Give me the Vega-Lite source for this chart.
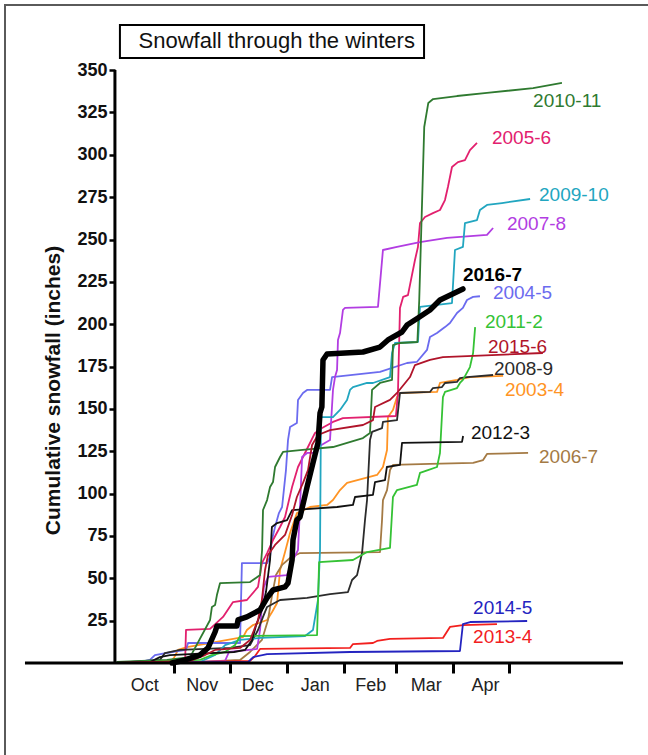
{
  "$schema": "https://vega.github.io/schema/vega-lite/v6.json",
  "width": 650,
  "height": 760,
  "autosize": "none",
  "padding": {"left": 5, "top": 5, "right": 0, "bottom": 0},
  "background": "white",
  "config": {"view": {"stroke": "#5a5a5a", "strokeWidth": 2}, "font": "Liberation Sans"},
  "datasets": {
    "snow": [
      {"season":"2003-4","day":0,"inches":0},{"season":"2003-4","day":28.9,"inches":0.6},{"season":"2003-4","day":31,"inches":3},{"season":"2003-4","day":33.2,"inches":7.7},{"season":"2003-4","day":38,"inches":9.4},{"season":"2003-4","day":68.3,"inches":15.3},{"season":"2003-4","day":70.4,"inches":19.5},{"season":"2003-4","day":73.7,"inches":22.4},{"season":"2003-4","day":81.3,"inches":25.4},{"season":"2003-4","day":84,"inches":30.1},{"season":"2003-4","day":86.7,"inches":35.4},{"season":"2003-4","day":88.3,"inches":54.9},{"season":"2003-4","day":91,"inches":65.5},{"season":"2003-4","day":93.7,"inches":76.7},{"season":"2003-4","day":97.4,"inches":88.5},{"season":"2003-4","day":104.5,"inches":92.1},{"season":"2003-4","day":113.7,"inches":93.3},{"season":"2003-4","day":116.9,"inches":96.2},{"season":"2003-4","day":120.7,"inches":102.1},{"season":"2003-4","day":124.5,"inches":106.3},{"season":"2003-4","day":140.7,"inches":111},{"season":"2003-4","day":143.9,"inches":115.7},{"season":"2003-4","day":146.1,"inches":125.7},{"season":"2003-4","day":146.6,"inches":145.2},{"season":"2003-4","day":149.3,"inches":149.4},{"season":"2003-4","day":151.5,"inches":157},{"season":"2003-4","day":153.1,"inches":159.4},{"season":"2003-4","day":173.1,"inches":160},{"season":"2003-4","day":174.7,"inches":165.3},{"season":"2003-4","day":183.9,"inches":167.1},{"season":"2003-4","day":190.9,"inches":168.8},{"season":"2003-4","day":208.8,"inches":169.5},
      {"season":"2004-5","day":0,"inches":0},{"season":"2004-5","day":12.6,"inches":0.6},{"season":"2004-5","day":18,"inches":1.8},{"season":"2004-5","day":20.7,"inches":4.7},{"season":"2004-5","day":29.9,"inches":6.5},{"season":"2004-5","day":37.5,"inches":7.7},{"season":"2004-5","day":38.6,"inches":11.8},{"season":"2004-5","day":66.7,"inches":11.8},{"season":"2004-5","day":67.7,"inches":59},{"season":"2004-5","day":81.3,"inches":59},{"season":"2004-5","day":82.9,"inches":62.6},{"season":"2004-5","day":83.9,"inches":72.6},{"season":"2004-5","day":85.6,"inches":80.3},{"season":"2004-5","day":87.7,"inches":88.5},{"season":"2004-5","day":89.4,"inches":92.1},{"season":"2004-5","day":91.5,"inches":113.9},{"season":"2004-5","day":92.6,"inches":131.6},{"season":"2004-5","day":93.7,"inches":139.3},{"season":"2004-5","day":97.4,"inches":141.7},{"season":"2004-5","day":98,"inches":155.3},{"season":"2004-5","day":100.7,"inches":159.4},{"season":"2004-5","day":102.9,"inches":161.2},{"season":"2004-5","day":115.3,"inches":161.2},{"season":"2004-5","day":116.4,"inches":168.8},{"season":"2004-5","day":142.3,"inches":171.8},{"season":"2004-5","day":156.9,"inches":177.1},{"season":"2004-5","day":162.2,"inches":177.7},{"season":"2004-5","day":167.7,"inches":184.8},{"season":"2004-5","day":169.3,"inches":192.4},{"season":"2004-5","day":173.1,"inches":194.8},{"season":"2004-5","day":177.4,"inches":198.3},{"season":"2004-5","day":180.1,"inches":200.7},{"season":"2004-5","day":183.9,"inches":206.6},{"season":"2004-5","day":187.1,"inches":209.6},{"season":"2004-5","day":189.3,"inches":214.3},{"season":"2004-5","day":192.6,"inches":216.1},{"season":"2004-5","day":196.3,"inches":216.5},
      {"season":"2005-6","day":0,"inches":0},{"season":"2005-6","day":37,"inches":0.6},{"season":"2005-6","day":37.5,"inches":19.5},{"season":"2005-6","day":50.5,"inches":20.1},{"season":"2005-6","day":57.5,"inches":27.2},{"season":"2005-6","day":62.9,"inches":36},{"season":"2005-6","day":70.4,"inches":37.2},{"season":"2005-6","day":76.4,"inches":44.9},{"season":"2005-6","day":78.5,"inches":59},{"season":"2005-6","day":81.3,"inches":64.9},{"season":"2005-6","day":84.5,"inches":72.6},{"season":"2005-6","day":88.3,"inches":80.3},{"season":"2005-6","day":91,"inches":86.2},{"season":"2005-6","day":94.8,"inches":103.9},{"season":"2005-6","day":98,"inches":115.7},{"season":"2005-6","day":100.7,"inches":121.6},{"season":"2005-6","day":103.4,"inches":127.5},{"season":"2005-6","day":107.2,"inches":135.8},{"season":"2005-6","day":111,"inches":138.7},{"season":"2005-6","day":116.9,"inches":142.3},{"season":"2005-6","day":122.3,"inches":144.6},{"season":"2005-6","day":150.9,"inches":145.8},{"season":"2005-6","day":152,"inches":159.4},{"season":"2005-6","day":153.1,"inches":209.6},{"season":"2005-6","day":154.8,"inches":216.1},{"season":"2005-6","day":157.4,"inches":217.2},{"season":"2005-6","day":161.2,"inches":237.9},{"season":"2005-6","day":162.8,"inches":245.6},{"season":"2005-6","day":163.9,"inches":259.7},{"season":"2005-6","day":166.6,"inches":263.3},{"season":"2005-6","day":170.9,"inches":265.6},{"season":"2005-6","day":174.7,"inches":267.4},{"season":"2005-6","day":177.4,"inches":273.3},{"season":"2005-6","day":179,"inches":281},{"season":"2005-6","day":181.2,"inches":292.8},{"season":"2005-6","day":184.4,"inches":295.7},{"season":"2005-6","day":188.2,"inches":296.9},{"season":"2005-6","day":190.9,"inches":302.8},{"season":"2005-6","day":194.7,"inches":307},
      {"season":"2006-7","day":0,"inches":0},{"season":"2006-7","day":45.1,"inches":0.6},{"season":"2006-7","day":66.7,"inches":1.8},{"season":"2006-7","day":72.1,"inches":6.5},{"season":"2006-7","day":78.5,"inches":13.6},{"season":"2006-7","day":81.8,"inches":25.4},{"season":"2006-7","day":84,"inches":40.1},{"season":"2006-7","day":86.1,"inches":51.9},{"season":"2006-7","day":89.4,"inches":57.9},{"season":"2006-7","day":93.7,"inches":62},{"season":"2006-7","day":99.1,"inches":64.9},{"season":"2006-7","day":142.3,"inches":65.5},{"season":"2006-7","day":143.4,"inches":84.4},{"season":"2006-7","day":143.9,"inches":96.2},{"season":"2006-7","day":146.1,"inches":102.1},{"season":"2006-7","day":147.7,"inches":113.9},{"season":"2006-7","day":149.3,"inches":116.9},{"season":"2006-7","day":169.3,"inches":117.5},{"season":"2006-7","day":192.6,"inches":118.1},{"season":"2006-7","day":198,"inches":119.8},{"season":"2006-7","day":200.1,"inches":123.4},{"season":"2006-7","day":222.3,"inches":124},
      {"season":"2007-8","day":0,"inches":0},{"season":"2007-8","day":45,"inches":0.6},{"season":"2007-8","day":58.6,"inches":1.2},{"season":"2007-8","day":60.7,"inches":6.5},{"season":"2007-8","day":75.9,"inches":8.3},{"season":"2007-8","day":77.5,"inches":19.5},{"season":"2007-8","day":78.6,"inches":35.4},{"season":"2007-8","day":79.6,"inches":44.9},{"season":"2007-8","day":81.8,"inches":50.8},{"season":"2007-8","day":92,"inches":51.9},{"season":"2007-8","day":95.3,"inches":60.8},{"season":"2007-8","day":98,"inches":66.7},{"season":"2007-8","day":99.1,"inches":92.1},{"season":"2007-8","day":100.2,"inches":121.6},{"season":"2007-8","day":102.9,"inches":124},{"season":"2007-8","day":108.3,"inches":124},{"season":"2007-8","day":108.8,"inches":127.5},{"season":"2007-8","day":115.3,"inches":131.6},{"season":"2007-8","day":116.9,"inches":161.2},{"season":"2007-8","day":118,"inches":168.8},{"season":"2007-8","day":119.1,"inches":173},{"season":"2007-8","day":119.6,"inches":190.7},{"season":"2007-8","day":120.7,"inches":194.8},{"season":"2007-8","day":122.3,"inches":208.4},{"season":"2007-8","day":123.4,"inches":209.6},{"season":"2007-8","day":141.2,"inches":210.2},{"season":"2007-8","day":143.9,"inches":243.8},{"season":"2007-8","day":151.5,"inches":245.6},{"season":"2007-8","day":163.9,"inches":248.5},{"season":"2007-8","day":178.5,"inches":250.9},{"season":"2007-8","day":200.1,"inches":252.7},{"season":"2007-8","day":203.4,"inches":256.8},
      {"season":"2008-9","day":0,"inches":0},{"season":"2008-9","day":23.4,"inches":1.8},{"season":"2008-9","day":26.1,"inches":5.9},{"season":"2008-9","day":34.2,"inches":7.7},{"season":"2008-9","day":61.3,"inches":8.9},{"season":"2008-9","day":72.1,"inches":10.6},{"season":"2008-9","day":76.4,"inches":19.5},{"season":"2008-9","day":79.1,"inches":27.2},{"season":"2008-9","day":81.3,"inches":33.1},{"season":"2008-9","day":88.3,"inches":37.2},{"season":"2008-9","day":102.9,"inches":38.4},{"season":"2008-9","day":115.3,"inches":40.7},{"season":"2008-9","day":125,"inches":41.9},{"season":"2008-9","day":127.2,"inches":49},{"season":"2008-9","day":129.9,"inches":51.9},{"season":"2008-9","day":132.6,"inches":64.9},{"season":"2008-9","day":134.2,"inches":84.4},{"season":"2008-9","day":135.3,"inches":96.2},{"season":"2008-9","day":136.9,"inches":131.6},{"season":"2008-9","day":138,"inches":136.4},{"season":"2008-9","day":143.4,"inches":138.7},{"season":"2008-9","day":143.9,"inches":142.3},{"season":"2008-9","day":151.5,"inches":143.4},{"season":"2008-9","day":153.1,"inches":159.4},{"season":"2008-9","day":169.3,"inches":160},{"season":"2008-9","day":170.9,"inches":162.3},{"season":"2008-9","day":175.8,"inches":162.9},{"season":"2008-9","day":177.4,"inches":165.3},{"season":"2008-9","day":183.9,"inches":165.9},{"season":"2008-9","day":185.5,"inches":168.2},{"season":"2008-9","day":189.3,"inches":168.8},{"season":"2008-9","day":203.4,"inches":170},
      {"season":"2009-10","day":0,"inches":0},{"season":"2009-10","day":45,"inches":0.6},{"season":"2009-10","day":53.2,"inches":4.7},{"season":"2009-10","day":58.6,"inches":10.6},{"season":"2009-10","day":66.7,"inches":13.6},{"season":"2009-10","day":77.5,"inches":14.8},{"season":"2009-10","day":101.8,"inches":15.9},{"season":"2009-10","day":106.1,"inches":19.5},{"season":"2009-10","day":108.8,"inches":37.2},{"season":"2009-10","day":109.9,"inches":66.7},{"season":"2009-10","day":110.4,"inches":145.2},{"season":"2009-10","day":116.9,"inches":145.2},{"season":"2009-10","day":120.7,"inches":149.4},{"season":"2009-10","day":124.5,"inches":155.3},{"season":"2009-10","day":126.1,"inches":161.2},{"season":"2009-10","day":127.7,"inches":162.9},{"season":"2009-10","day":135.3,"inches":165.3},{"season":"2009-10","day":138.5,"inches":165.3},{"season":"2009-10","day":147.7,"inches":168.8},{"season":"2009-10","day":148.8,"inches":183},{"season":"2009-10","day":150.4,"inches":188.9},{"season":"2009-10","day":162.8,"inches":189.5},{"season":"2009-10","day":163.9,"inches":210.2},{"season":"2009-10","day":181.2,"inches":212.5},{"season":"2009-10","day":182.8,"inches":243.8},{"season":"2009-10","day":187.1,"inches":245.6},{"season":"2009-10","day":188.2,"inches":259.7},{"season":"2009-10","day":194.7,"inches":261.5},{"season":"2009-10","day":196.3,"inches":267.4},{"season":"2009-10","day":200.1,"inches":270.4},{"season":"2009-10","day":208.2,"inches":271.5},{"season":"2009-10","day":223.4,"inches":273.9},
      {"season":"2010-11","day":0,"inches":0.6},{"season":"2010-11","day":27.2,"inches":1.8},{"season":"2010-11","day":39.7,"inches":3.5},{"season":"2010-11","day":50.5,"inches":25.4},{"season":"2010-11","day":51.5,"inches":33.1},{"season":"2010-11","day":53.2,"inches":34.2},{"season":"2010-11","day":54.2,"inches":40.1},{"season":"2010-11","day":55.9,"inches":47.2},{"season":"2010-11","day":72.1,"inches":47.8},{"season":"2010-11","day":77.5,"inches":51.9},{"season":"2010-11","day":78.6,"inches":66.7},{"season":"2010-11","day":79.1,"inches":90.3},{"season":"2010-11","day":81.3,"inches":96.2},{"season":"2010-11","day":82.9,"inches":103.9},{"season":"2010-11","day":84.5,"inches":106.8},{"season":"2010-11","day":85.6,"inches":115.7},{"season":"2010-11","day":88.3,"inches":121.6},{"season":"2010-11","day":89.9,"inches":124.6},{"season":"2010-11","day":99.1,"inches":125.7},{"season":"2010-11","day":116.9,"inches":127.5},{"season":"2010-11","day":133.1,"inches":132.8},{"season":"2010-11","day":136.9,"inches":135.8},{"season":"2010-11","day":138,"inches":161.2},{"season":"2010-11","day":142.3,"inches":165.3},{"season":"2010-11","day":148.8,"inches":167.1},{"season":"2010-11","day":149.3,"inches":187.7},{"season":"2010-11","day":153.1,"inches":188.9},{"season":"2010-11","day":162.5,"inches":189.5},{"season":"2010-11","day":163.5,"inches":214.3},{"season":"2010-11","day":164.8,"inches":263.3},{"season":"2010-11","day":166.2,"inches":316.4},{"season":"2010-11","day":168.4,"inches":330.6},{"season":"2010-11","day":171,"inches":332.9},{"season":"2010-11","day":183.9,"inches":334.7},{"season":"2010-11","day":200.1,"inches":336.5},{"season":"2010-11","day":225,"inches":339.4},{"season":"2010-11","day":240.6,"inches":342.4},
      {"season":"2011-2","day":0,"inches":0},{"season":"2011-2","day":26.1,"inches":1.2},{"season":"2011-2","day":45.1,"inches":1.8},{"season":"2011-2","day":51.5,"inches":4.7},{"season":"2011-2","day":58.6,"inches":6.5},{"season":"2011-2","day":64,"inches":10.6},{"season":"2011-2","day":66.7,"inches":15.9},{"season":"2011-2","day":108.3,"inches":16.5},{"season":"2011-2","day":109.4,"inches":59.6},{"season":"2011-2","day":127.7,"inches":60.8},{"season":"2011-2","day":135.3,"inches":65.5},{"season":"2011-2","day":147.7,"inches":67.9},{"season":"2011-2","day":149.3,"inches":98},{"season":"2011-2","day":151.5,"inches":102.1},{"season":"2011-2","day":162.2,"inches":105.1},{"season":"2011-2","day":163.9,"inches":112.2},{"season":"2011-2","day":168.2,"inches":113.9},{"season":"2011-2","day":173.1,"inches":115.7},{"season":"2011-2","day":174.7,"inches":124},{"season":"2011-2","day":176.3,"inches":157},{"season":"2011-2","day":177.4,"inches":160},{"season":"2011-2","day":183.9,"inches":162.3},{"season":"2011-2","day":185.5,"inches":165.3},{"season":"2011-2","day":187.1,"inches":167.1},{"season":"2011-2","day":190.9,"inches":174.7},{"season":"2011-2","day":192.6,"inches":183},{"season":"2011-2","day":193.7,"inches":198.3},
      {"season":"2012-3","day":0,"inches":0},{"season":"2012-3","day":18,"inches":0.6},{"season":"2012-3","day":23.4,"inches":3.5},{"season":"2012-3","day":28.8,"inches":4.7},{"season":"2012-3","day":63.4,"inches":6.5},{"season":"2012-3","day":69.4,"inches":7.7},{"season":"2012-3","day":73.2,"inches":13.6},{"season":"2012-3","day":75.4,"inches":22.4},{"season":"2012-3","day":78.5,"inches":31.3},{"season":"2012-3","day":80.7,"inches":41.9},{"season":"2012-3","day":82.9,"inches":60.8},{"season":"2012-3","day":83.9,"inches":80.3},{"season":"2012-3","day":86.7,"inches":82.6},{"season":"2012-3","day":92.1,"inches":84.4},{"season":"2012-3","day":94.8,"inches":90.3},{"season":"2012-3","day":119.1,"inches":92.1},{"season":"2012-3","day":127.7,"inches":93.3},{"season":"2012-3","day":128.8,"inches":98},{"season":"2012-3","day":138.5,"inches":99.2},{"season":"2012-3","day":139.6,"inches":106.8},{"season":"2012-3","day":145,"inches":108},{"season":"2012-3","day":146,"inches":115.7},{"season":"2012-3","day":153.1,"inches":116.9},{"season":"2012-3","day":154.2,"inches":129.9},{"season":"2012-3","day":186.6,"inches":130.5},{"season":"2012-3","day":187.2,"inches":134},
      {"season":"2013-4","day":0,"inches":0},{"season":"2013-4","day":45.1,"inches":0.6},{"season":"2013-4","day":72.1,"inches":1.2},{"season":"2013-4","day":74.8,"inches":4.1},{"season":"2013-4","day":77.5,"inches":8.3},{"season":"2013-4","day":126.1,"inches":8.9},{"season":"2013-4","day":127.7,"inches":11.2},{"season":"2013-4","day":138.5,"inches":11.8},{"season":"2013-4","day":140.7,"inches":13},{"season":"2013-4","day":147.7,"inches":14.2},{"season":"2013-4","day":176.3,"inches":14.8},{"season":"2013-4","day":180.1,"inches":21.3},{"season":"2013-4","day":187.1,"inches":22.4},{"season":"2013-4","day":205.5,"inches":23},
      {"season":"2014-5","day":0,"inches":0},{"season":"2014-5","day":71.1,"inches":0.6},{"season":"2014-5","day":73.8,"inches":3.5},{"season":"2014-5","day":81.3,"inches":5.3},{"season":"2014-5","day":126.1,"inches":6.5},{"season":"2014-5","day":185.5,"inches":7.1},{"season":"2014-5","day":187.1,"inches":23},{"season":"2014-5","day":191,"inches":24.2},{"season":"2014-5","day":221.8,"inches":24.8},
      {"season":"2015-6","day":0,"inches":0},{"season":"2015-6","day":39.7,"inches":1.2},{"season":"2015-6","day":47.8,"inches":4.7},{"season":"2015-6","day":53.2,"inches":7.7},{"season":"2015-6","day":66.7,"inches":8.9},{"season":"2015-6","day":72.1,"inches":13.6},{"season":"2015-6","day":76.4,"inches":25.4},{"season":"2015-6","day":78.5,"inches":37.2},{"season":"2015-6","day":80.2,"inches":54.9},{"season":"2015-6","day":81.8,"inches":63.8},{"season":"2015-6","day":85.6,"inches":69.7},{"season":"2015-6","day":91,"inches":75.6},{"season":"2015-6","day":94.8,"inches":87.4},{"season":"2015-6","day":97.4,"inches":98},{"season":"2015-6","day":100.7,"inches":106.3},{"season":"2015-6","day":103.4,"inches":113.9},{"season":"2015-6","day":105.6,"inches":128.7},{"season":"2015-6","day":108.8,"inches":134.6},{"season":"2015-6","day":115.3,"inches":137.5},{"season":"2015-6","day":133.1,"inches":140.5},{"season":"2015-6","day":138.5,"inches":143.4},{"season":"2015-6","day":139.6,"inches":151.1},{"season":"2015-6","day":147.7,"inches":155.3},{"season":"2015-6","day":151.5,"inches":159.4},{"season":"2015-6","day":158.5,"inches":168.8},{"season":"2015-6","day":161.2,"inches":175.9},{"season":"2015-6","day":169.3,"inches":178.9},{"season":"2015-6","day":176.3,"inches":180.6},{"season":"2015-6","day":230.3,"inches":183},
      {"season":"2016-7","day":30,"inches":0},{"season":"2016-7","day":37,"inches":1.8},{"season":"2016-7","day":45,"inches":4.7},{"season":"2016-7","day":49.4,"inches":8.9},{"season":"2016-7","day":53.2,"inches":18.3},{"season":"2016-7","day":54.2,"inches":21.8},{"season":"2016-7","day":65,"inches":21.8},{"season":"2016-7","day":65.6,"inches":25.4},{"season":"2016-7","day":70.4,"inches":27.2},{"season":"2016-7","day":77.5,"inches":31.3},{"season":"2016-7","day":81.3,"inches":38.4},{"season":"2016-7","day":84.5,"inches":43.1},{"season":"2016-7","day":91,"inches":44.9},{"season":"2016-7","day":92.6,"inches":47.2},{"season":"2016-7","day":94.8,"inches":60.8},{"season":"2016-7","day":95.3,"inches":72.6},{"season":"2016-7","day":97.4,"inches":84.4},{"season":"2016-7","day":99.1,"inches":86.2},{"season":"2016-7","day":102.9,"inches":103.9},{"season":"2016-7","day":106.1,"inches":118.1},{"season":"2016-7","day":108.8,"inches":129.9},{"season":"2016-7","day":109.9,"inches":147.6},{"season":"2016-7","day":110.9,"inches":151.1},{"season":"2016-7","day":111.5,"inches":178.9},{"season":"2016-7","day":113.7,"inches":182.4},{"season":"2016-7","day":133.1,"inches":183.6},{"season":"2016-7","day":142.3,"inches":186.5},{"season":"2016-7","day":146.6,"inches":190.7},{"season":"2016-7","day":154.2,"inches":195.4},{"season":"2016-7","day":156.9,"inches":199.5},{"season":"2016-7","day":162.8,"inches":203.7},{"season":"2016-7","day":169.3,"inches":208.4},{"season":"2016-7","day":174.7,"inches":214.3},{"season":"2016-7","day":187.1,"inches":220.8}
    ],
    "labels": [
      {"season":"2010-11","day":225,"inches":331.8},
      {"season":"2005-6","day":202.8,"inches":309.9},
      {"season":"2009-10","day":228.2,"inches":276.3},
      {"season":"2007-8","day":210.9,"inches":259.2},
      {"season":"2016-7","day":187.1,"inches":229},
      {"season":"2004-5","day":203.3,"inches":218.4},
      {"season":"2011-2","day":199,"inches":201.3},
      {"season":"2015-6","day":200.6,"inches":186.5},
      {"season":"2008-9","day":203.9,"inches":173.6},
      {"season":"2003-4","day":209.8,"inches":161.2},
      {"season":"2012-3","day":191.4,"inches":135.8},
      {"season":"2006-7","day":228.2,"inches":121.6},
      {"season":"2014-5","day":192.6,"inches":32.5},
      {"season":"2013-4","day":192.6,"inches":15.3}
    ]
  },
  "layer": [
    {
      "data": {"name": "snow"},
      "transform": [{"filter": "datum.season !== '2016-7'"}],
      "mark": {"type": "line", "strokeWidth": 1.8, "strokeJoin": "round"},
      "encoding": {
        "x": {
          "field": "day", "type": "quantitative",
          "scale": {"domain": [-60.29, 290.87], "nice": false, "zero": false},
          "axis": {
            "orient": "bottom", "offset": -102, "title": null, "domain": false, "grid": false,
            "values": [15, 31, 46, 61, 76, 92, 107, 123, 137, 151, 167, 182, 199, 212],
            "tickColor": "black", "tickWidth": 3, "tickSize": 10,
            "tickOpacity": {"condition": {"test": "indexof([31,61,92,123,151,182,212], datum.value) >= 0", "value": 1}, "value": 0},
            "labelExpr": "datum.value==15?'Oct':datum.value==46?'Nov':datum.value==76?'Dec':datum.value==107?'Jan':datum.value==137?'Feb':datum.value==167?'Mar':datum.value==199?'Apr':''",
            "labelFont": "Liberation Sans", "labelFontSize": 18, "labelColor": "#222", "labelPadding": 3,
            "labelOverlap": false, "labelFlush": false, "labelBound": false
          }
        },
        "y": {
          "field": "inches", "type": "quantitative",
          "scale": {"domain": [-60.21, 388.43], "nice": false, "zero": false},
          "axis": {
            "orient": "left", "offset": -110, "domain": false, "grid": false,
            "values": [25, 50, 75, 100, 125, 150, 175, 200, 225, 250, 275, 300, 325, 350],
            "tickColor": "black", "tickWidth": 2.5, "tickSize": 6,
            "labelFont": "Liberation Sans", "labelFontSize": 18, "labelFontWeight": "bold", "labelColor": "#111", "labelPadding": 2,
            "labelOverlap": false, "labelFlush": false, "labelBound": false,
            "title": "Cumulative snowfall (inches)", "titleFont": "Liberation Sans", "titleFontSize": 21, "titleFontWeight": "bold", "titleColor": "#111",
            "titleX": -52, "titleY": 385, "titleAlign": "center", "titleBaseline": "bottom", "titleAngle": 270
          }
        },
        "color": {
          "field": "season", "type": "nominal", "legend": null,
          "scale": {
            "domain": ["2003-4","2004-5","2005-6","2006-7","2007-8","2008-9","2009-10","2010-11","2011-2","2012-3","2013-4","2014-5","2015-6","2016-7"],
            "range": ["#ff9424","#6b6bef","#e2206e","#a47a44","#b23de2","#2b2b2b","#22a6c0","#2f7a30","#35c235","#111111","#f2201e","#2424c0","#b0142a","#000000"]
          }
        },
        "order": {"value": null}
      }
    },
    {
      "data": {"values": [{}]},
      "mark": {"type": "rect", "fill": "white", "stroke": "black", "strokeWidth": 2},
      "encoding": {
        "x": {"datum": 1.8, "type": "quantitative", "scale": {"domain": [-60.29, 290.87], "nice": false, "zero": false}},
        "x2": {"datum": 166.1},
        "y": {"datum": 376.6, "type": "quantitative", "scale": {"domain": [-60.21, 388.43], "nice": false, "zero": false}},
        "y2": {"datum": 357.1}
      }
    },
    {
      "data": {"values": [{}]},
      "mark": {"type": "text", "fontSize": 22, "font": "Liberation Sans", "color": "#111", "align": "center", "baseline": "middle"},
      "encoding": {
        "x": {"datum": 86.5, "type": "quantitative", "scale": {"domain": [-60.29, 290.87], "nice": false, "zero": false}},
        "y": {"datum": 367, "type": "quantitative", "scale": {"domain": [-60.21, 388.43], "nice": false, "zero": false}},
        "text": {"value": "Snowfall through the winters"}
      }
    },
    {
      "data": {"values": [{}]},
      "mark": {"type": "rule", "color": "black", "strokeWidth": 3},
      "encoding": {
        "x": {"datum": -49.5, "type": "quantitative", "scale": {"domain": [-60.29, 290.87], "nice": false, "zero": false}},
        "x2": {"datum": 273.6},
        "y": {"datum": 0, "type": "quantitative", "scale": {"domain": [-60.21, 388.43], "nice": false, "zero": false}}
      }
    },
    {
      "data": {"values": [{}]},
      "mark": {"type": "rule", "color": "black", "strokeWidth": 3},
      "encoding": {
        "x": {"datum": -0.9, "type": "quantitative", "scale": {"domain": [-60.29, 290.87], "nice": false, "zero": false}},
        "y": {"datum": 0, "type": "quantitative", "scale": {"domain": [-60.21, 388.43], "nice": false, "zero": false}},
        "y2": {"datum": 350}
      }
    },
    {
      "data": {"name": "snow"},
      "transform": [{"filter": "datum.season === '2016-7'"}],
      "mark": {"type": "line", "strokeWidth": 5.5, "strokeJoin": "round", "strokeCap": "round", "color": "black"},
      "encoding": {
        "x": {"field": "day", "type": "quantitative", "scale": {"domain": [-60.29, 290.87], "nice": false, "zero": false}},
        "y": {"field": "inches", "type": "quantitative", "scale": {"domain": [-60.21, 388.43], "nice": false, "zero": false}},
        "order": {"value": null}
      }
    },
    {
      "data": {"name": "labels"},
      "transform": [{"filter": "datum.season !== '2016-7'"}],
      "mark": {"type": "text", "fontSize": 19, "font": "Liberation Sans", "align": "left", "baseline": "middle"},
      "encoding": {
        "x": {"field": "day", "type": "quantitative", "scale": {"domain": [-60.29, 290.87], "nice": false, "zero": false}},
        "y": {"field": "inches", "type": "quantitative", "scale": {"domain": [-60.21, 388.43], "nice": false, "zero": false}},
        "text": {"field": "season"},
        "color": {"field": "season", "type": "nominal", "legend": null}
      }
    },
    {
      "data": {"name": "labels"},
      "transform": [{"filter": "datum.season === '2016-7'"}],
      "mark": {"type": "text", "fontSize": 19, "fontWeight": "bold", "font": "Liberation Sans", "align": "left", "baseline": "middle", "color": "black"},
      "encoding": {
        "x": {"field": "day", "type": "quantitative", "scale": {"domain": [-60.29, 290.87], "nice": false, "zero": false}},
        "y": {"field": "inches", "type": "quantitative", "scale": {"domain": [-60.21, 388.43], "nice": false, "zero": false}},
        "text": {"field": "season"}
      }
    }
  ]
}
